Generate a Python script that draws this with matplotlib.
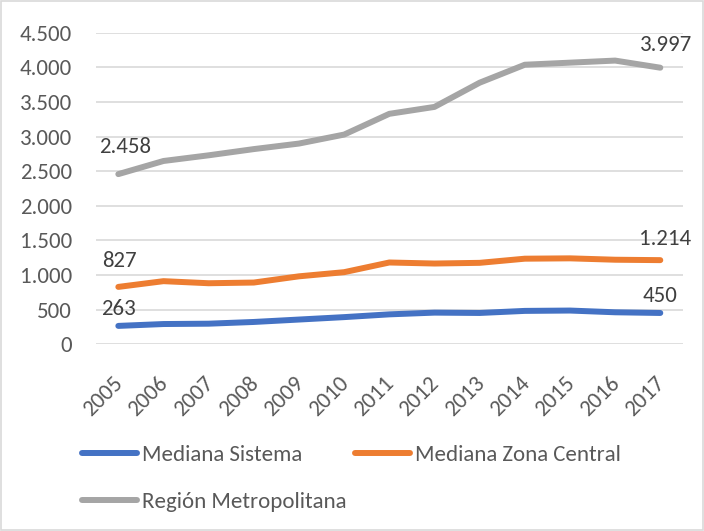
import matplotlib
matplotlib.use("Agg")
import matplotlib.pyplot as plt
import matplotlib.transforms as mtransforms
from matplotlib.ticker import FuncFormatter
from matplotlib import font_manager

years = ["2005", "2006", "2007", "2008", "2009", "2010", "2011", "2012", "2013",
         "2014", "2015", "2016", "2017"]
mediana_sistema = [263, 290, 295, 320, 355, 390, 430, 455, 450, 480, 485, 460, 450]
mediana_zona_central = [827, 910, 880, 890, 980, 1040, 1180, 1165, 1175, 1235, 1240, 1220, 1214]
region_metropolitana = [2458, 2648, 2730, 2820, 2900, 3030, 3330, 3430, 3780, 4040, 4070, 4100, 3997]

names = {f.name for f in font_manager.fontManager.ttflist}
fam = [f for f in ["Carlito", "Liberation Sans Narrow", "Open Sans", "DejaVu Sans"] if f in names]
plt.rcParams['font.family'] = fam

FS = 16.5
txt = "#595959"
fig = plt.figure(figsize=(7.04, 5.31), dpi=100)
ax = fig.add_axes([0.136, 0.352, 0.834, 0.586])

x = list(range(len(years)))
l1, = ax.plot(x, mediana_sistema, color="#4472C4", lw=4.3, solid_capstyle="round", label="Mediana Sistema")
l2, = ax.plot(x, mediana_zona_central, color="#ED7D31", lw=4.3, solid_capstyle="round", label="Mediana Zona Central")
l3, = ax.plot(x, region_metropolitana, color="#A5A5A5", lw=4.3, solid_capstyle="round", label="Región Metropolitana")

fmt = lambda v: f"{int(round(v)):,}".replace(",", ".")
# label offsets in points (dx, dy)
offsets = {
    "sis": [(0, 12.5), (-0.5, 12.5)],
    "zon": [(0.5, 19), (3.5, 15)],
    "reg": [(5, 19.5), (4.5, 16)],
}
for key, series in (("sis", mediana_sistema), ("zon", mediana_zona_central), ("reg", region_metropolitana)):
    for j, i in enumerate((0, len(series) - 1)):
        ax.annotate(fmt(series[i]), (x[i], series[i]), xytext=offsets[key][j],
                    textcoords="offset points", ha="center", va="center",
                    fontsize=FS, color="#404040")

ax.set_xlim(-0.5, len(years) - 0.5)
ax.set_ylim(0, 4500)
ax.set_yticks(range(0, 4501, 500))
ax.yaxis.set_major_formatter(FuncFormatter(lambda v, p: fmt(v)))
ax.set_xticks(x)
ax.set_xticklabels(years, rotation=45, ha="right", rotation_mode="anchor")
ax.tick_params(axis="both", length=0, labelsize=FS, labelcolor=txt)
ax.tick_params(axis="x", pad=21)
ax.tick_params(axis="y", pad=17)
shift = mtransforms.ScaledTranslation(-4 / 72, 0, fig.dpi_scale_trans)
for lab in ax.get_xticklabels():
    lab.set_transform(lab.get_transform() + shift)
ax.grid(axis="y", color="#D9D9D9", lw=1.2)
ax.set_axisbelow(True)
for s in ax.spines.values():
    s.set_visible(False)

leg = fig.legend(handles=[l1, l3, l2], loc="upper left", bbox_to_anchor=(82 / 704, 1 - 445 / 531),
                 ncol=2, frameon=False, fontsize=FS, handlelength=2.4, handletextpad=0.2,
                 columnspacing=0.4, labelspacing=1.17, labelcolor=txt, borderpad=0,
                 borderaxespad=0)

fig.patches.append(plt.Rectangle((0.002, 0.002), 0.996, 0.996, transform=fig.transFigure,
                                 fill=False, edgecolor="#D9D9D9", lw=1.2))
fig.savefig("out.png", dpi=100)
